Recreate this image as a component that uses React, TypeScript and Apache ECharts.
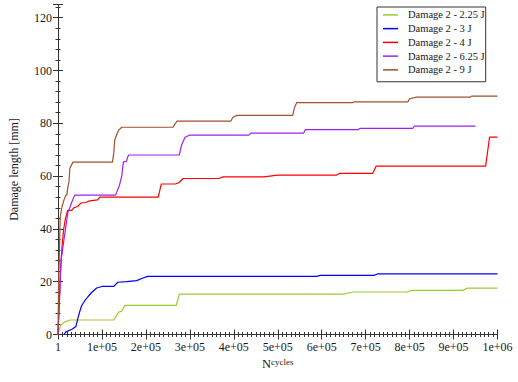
import React, { useEffect, useRef } from "react";
import * as echarts from "echarts";

const seriesNames = [
  "Damage 2 - 2.25 J",
  "Damage 2 - 3 J",
  "Damage 2 - 4 J",
  "Damage 2 - 6.25 J",
  "Damage 2 - 9 J",
];
const seriesColors = ["#99cc32", "#0000ff", "#ff0000", "#a020f0", "#a0522d"];

const xTickLabels = ["1", "1e+05", "2e+05", "3e+05", "4e+05", "5e+05", "6e+05", "7e+05", "8e+05", "9e+05", "1e+06"];
const yTickLabels = ["0", "20", "40", "60", "80", "100", "120"];

// cycles / damage length [mm]
const greenX = [1, 6000, 13600, 27000, 127000, 138000, 145000, 152000, 269000, 276000, 649000, 672000, 794000, 805000, 921000, 932000, 1000000];
const greenY = [0, 3.5, 4.6, 5.5, 5.5, 8.5, 8.8, 11, 11, 15.3, 15.3, 16.1, 16.1, 16.7, 16.7, 17.6, 17.6];

const blueX = [13600, 18000, 31700, 40700, 45000, 50000, 54000, 61000, 68000, 77000, 88000, 100000, 127000, 136000, 156000, 179000, 192000, 204000, 588000, 597000, 719000, 728000, 1000000];
const blueY = [0, 1, 2, 3, 6, 9, 11, 12.8, 14.3, 16, 17.6, 18.2, 18.2, 19.8, 20, 20.4, 21.3, 22, 22, 22.4, 22.4, 23, 23];

const redX = [1, 3000, 6000, 9000, 13000, 17000, 22000, 31000, 36000, 45000, 52000, 63000, 72000, 90000, 95000, 228000, 235000, 267000, 275000, 285000, 367000, 375000, 468000, 500000, 634000, 640000, 716000, 724000, 973000, 982000, 1000000];
const redY = [0, 12, 25, 33, 40, 44, 47, 47, 48, 48.5, 49.8, 50, 50.6, 51, 52, 52, 57, 57, 57.5, 59.1, 59.1, 59.7, 59.7, 60.4, 60.4, 61, 61, 63.8, 63.8, 74.8, 74.8];

const purpleX = [1, 7000, 13600, 18000, 22600, 27000, 31000, 38000, 131000, 140000, 145000, 147000, 149000, 156000, 158000, 161000, 276000, 281000, 289000, 299000, 434000, 439000, 559000, 563000, 683000, 688000, 807000, 811000, 950000];
const purpleY = [0, 28, 36, 41, 46.4, 48, 50, 52.8, 52.8, 56.6, 60, 63, 65.4, 65.6, 67, 68, 68, 71.7, 74.7, 75.5, 75.5, 76.3, 76.3, 77.6, 77.6, 78.1, 78.1, 78.9, 78.9];

const brownX = [1, 1500, 3000, 5000, 9000, 13600, 18000, 20000, 22600, 25000, 27000, 34000, 124000, 127000, 129000, 133000, 138000, 145000, 262000, 267000, 271000, 393000, 398000, 407000, 534000, 538000, 543000, 670000, 674000, 796000, 800000, 816000, 938000, 941000, 1000000];
const brownY = [0, 20, 30, 44.5, 48.3, 51, 52.8, 52.8, 56, 58, 63, 65.3, 65.3, 69, 73.6, 75.5, 77.4, 78.5, 78.5, 80, 80.8, 80.8, 82.3, 83, 83, 85.9, 87.8, 87.8, 88.1, 88.1, 89.3, 89.9, 89.9, 90.3, 90.3];

const seriesX = [greenX, blueX, redX, purpleX, brownX];
const seriesY = [greenY, blueY, redY, purpleY, brownY];

const FONT = "'Liberation Serif', 'DejaVu Serif', serif";
const AXIS_COLOR = "#333";
const TEXT_COLOR = "#1a1a1a";

export default function App() {
  const ref = useRef<HTMLDivElement>(null);
  useEffect(() => {
    if (!ref.current) return;
    const chart = echarts.init(ref.current, undefined, { renderer: "svg" });

    const tickCommon = {
      axisLine: { show: true, lineStyle: { color: AXIS_COLOR, width: 1 } },
      axisTick: { show: true, inside: true, length: 5, lineStyle: { color: AXIS_COLOR } },
      minorTick: { show: true, length: 2.5, lineStyle: { color: AXIS_COLOR } },
      splitLine: { show: false },
    };

    chart.setOption({
      animation: false,
      backgroundColor: "#fff",
      textStyle: { fontFamily: FONT },
      grid: { left: 56, right: 20.5, top: 4.5, bottom: 47.5, containLabel: false },
      legend: {
        orient: "vertical",
        left: 377,
        top: 7,
        padding: [1, 1, 5, 6],
        itemGap: 0,
        itemWidth: 15,
        itemHeight: 1.5,
        icon: "rect",
        backgroundColor: "#fff",
        borderColor: "#333",
        borderWidth: 1,
        borderRadius: 0,
        textStyle: { fontFamily: FONT, fontSize: 10.5, color: TEXT_COLOR, lineHeight: 13.75, padding: [0, 0, 0, 5] },
        data: seriesNames,
      },
      xAxis: [
        {
          type: "value",
          position: "bottom",
          min: 0,
          max: 1000000,
          interval: 100000,
          name: "{n|N}{s|cycles}",
          nameLocation: "middle",
          nameGap: 23,
          nameTextStyle: {
            fontFamily: FONT,
            rich: {
              n: { fontFamily: FONT, fontSize: 12.5, color: TEXT_COLOR, lineHeight: 12, verticalAlign: "top" },
              s: { fontFamily: FONT, fontSize: 9, color: TEXT_COLOR, lineHeight: 26, verticalAlign: "top" },
            },
          },
          ...tickCommon,
          minorTick: { ...tickCommon.minorTick, splitNumber: 10 },
          axisLabel: {
            fontFamily: FONT,
            fontSize: 12,
            color: TEXT_COLOR,
            margin: 6,
            formatter: (v: number) => (v % 100000 === 0 ? xTickLabels[Math.round(v / 100000)] ?? "" : ""),
          },
        },
        {
          type: "value",
          position: "top",
          min: 0,
          max: 1000000,
          interval: 100000,
          ...tickCommon,
          minorTick: { ...tickCommon.minorTick, splitNumber: 10 },
          axisLabel: { show: false },
        },
      ],
      yAxis: [
        {
          type: "value",
          position: "left",
          min: 0,
          max: 125,
          interval: 20,
          name: "Damage length [mm]",
          nameLocation: "middle",
          nameGap: 38,
          nameTextStyle: { fontFamily: FONT, fontSize: 12, color: TEXT_COLOR },
          ...tickCommon,
          minorTick: { ...tickCommon.minorTick, splitNumber: 5 },
          axisLabel: {
            fontFamily: FONT,
            fontSize: 12,
            color: TEXT_COLOR,
            margin: 6,
            showMaxLabel: false,
            formatter: (v: number) => (v % 20 === 0 ? yTickLabels[Math.round(v / 20)] ?? "" : ""),
          },
        },
        {
          type: "value",
          position: "right",
          min: 0,
          max: 125,
          interval: 20,
          ...tickCommon,
          minorTick: { ...tickCommon.minorTick, splitNumber: 5 },
          axisLabel: { show: false },
        },
      ],
      series: seriesNames.map((name, i) => ({
        name,
        type: "line",
        xAxisIndex: 0,
        yAxisIndex: 0,
        showSymbol: false,
        symbol: "none",
        color: seriesColors[i],
        lineStyle: { color: seriesColors[i], width: 1.2 },
        data: seriesX[i].map((x, j) => [x, seriesY[i][j]]),
      })),
    });

    return () => chart.dispose();
  }, []);

  return <div ref={ref} style={{ position: "fixed", left: 0, top: 0, width: 518, height: 382 }} />;
}
